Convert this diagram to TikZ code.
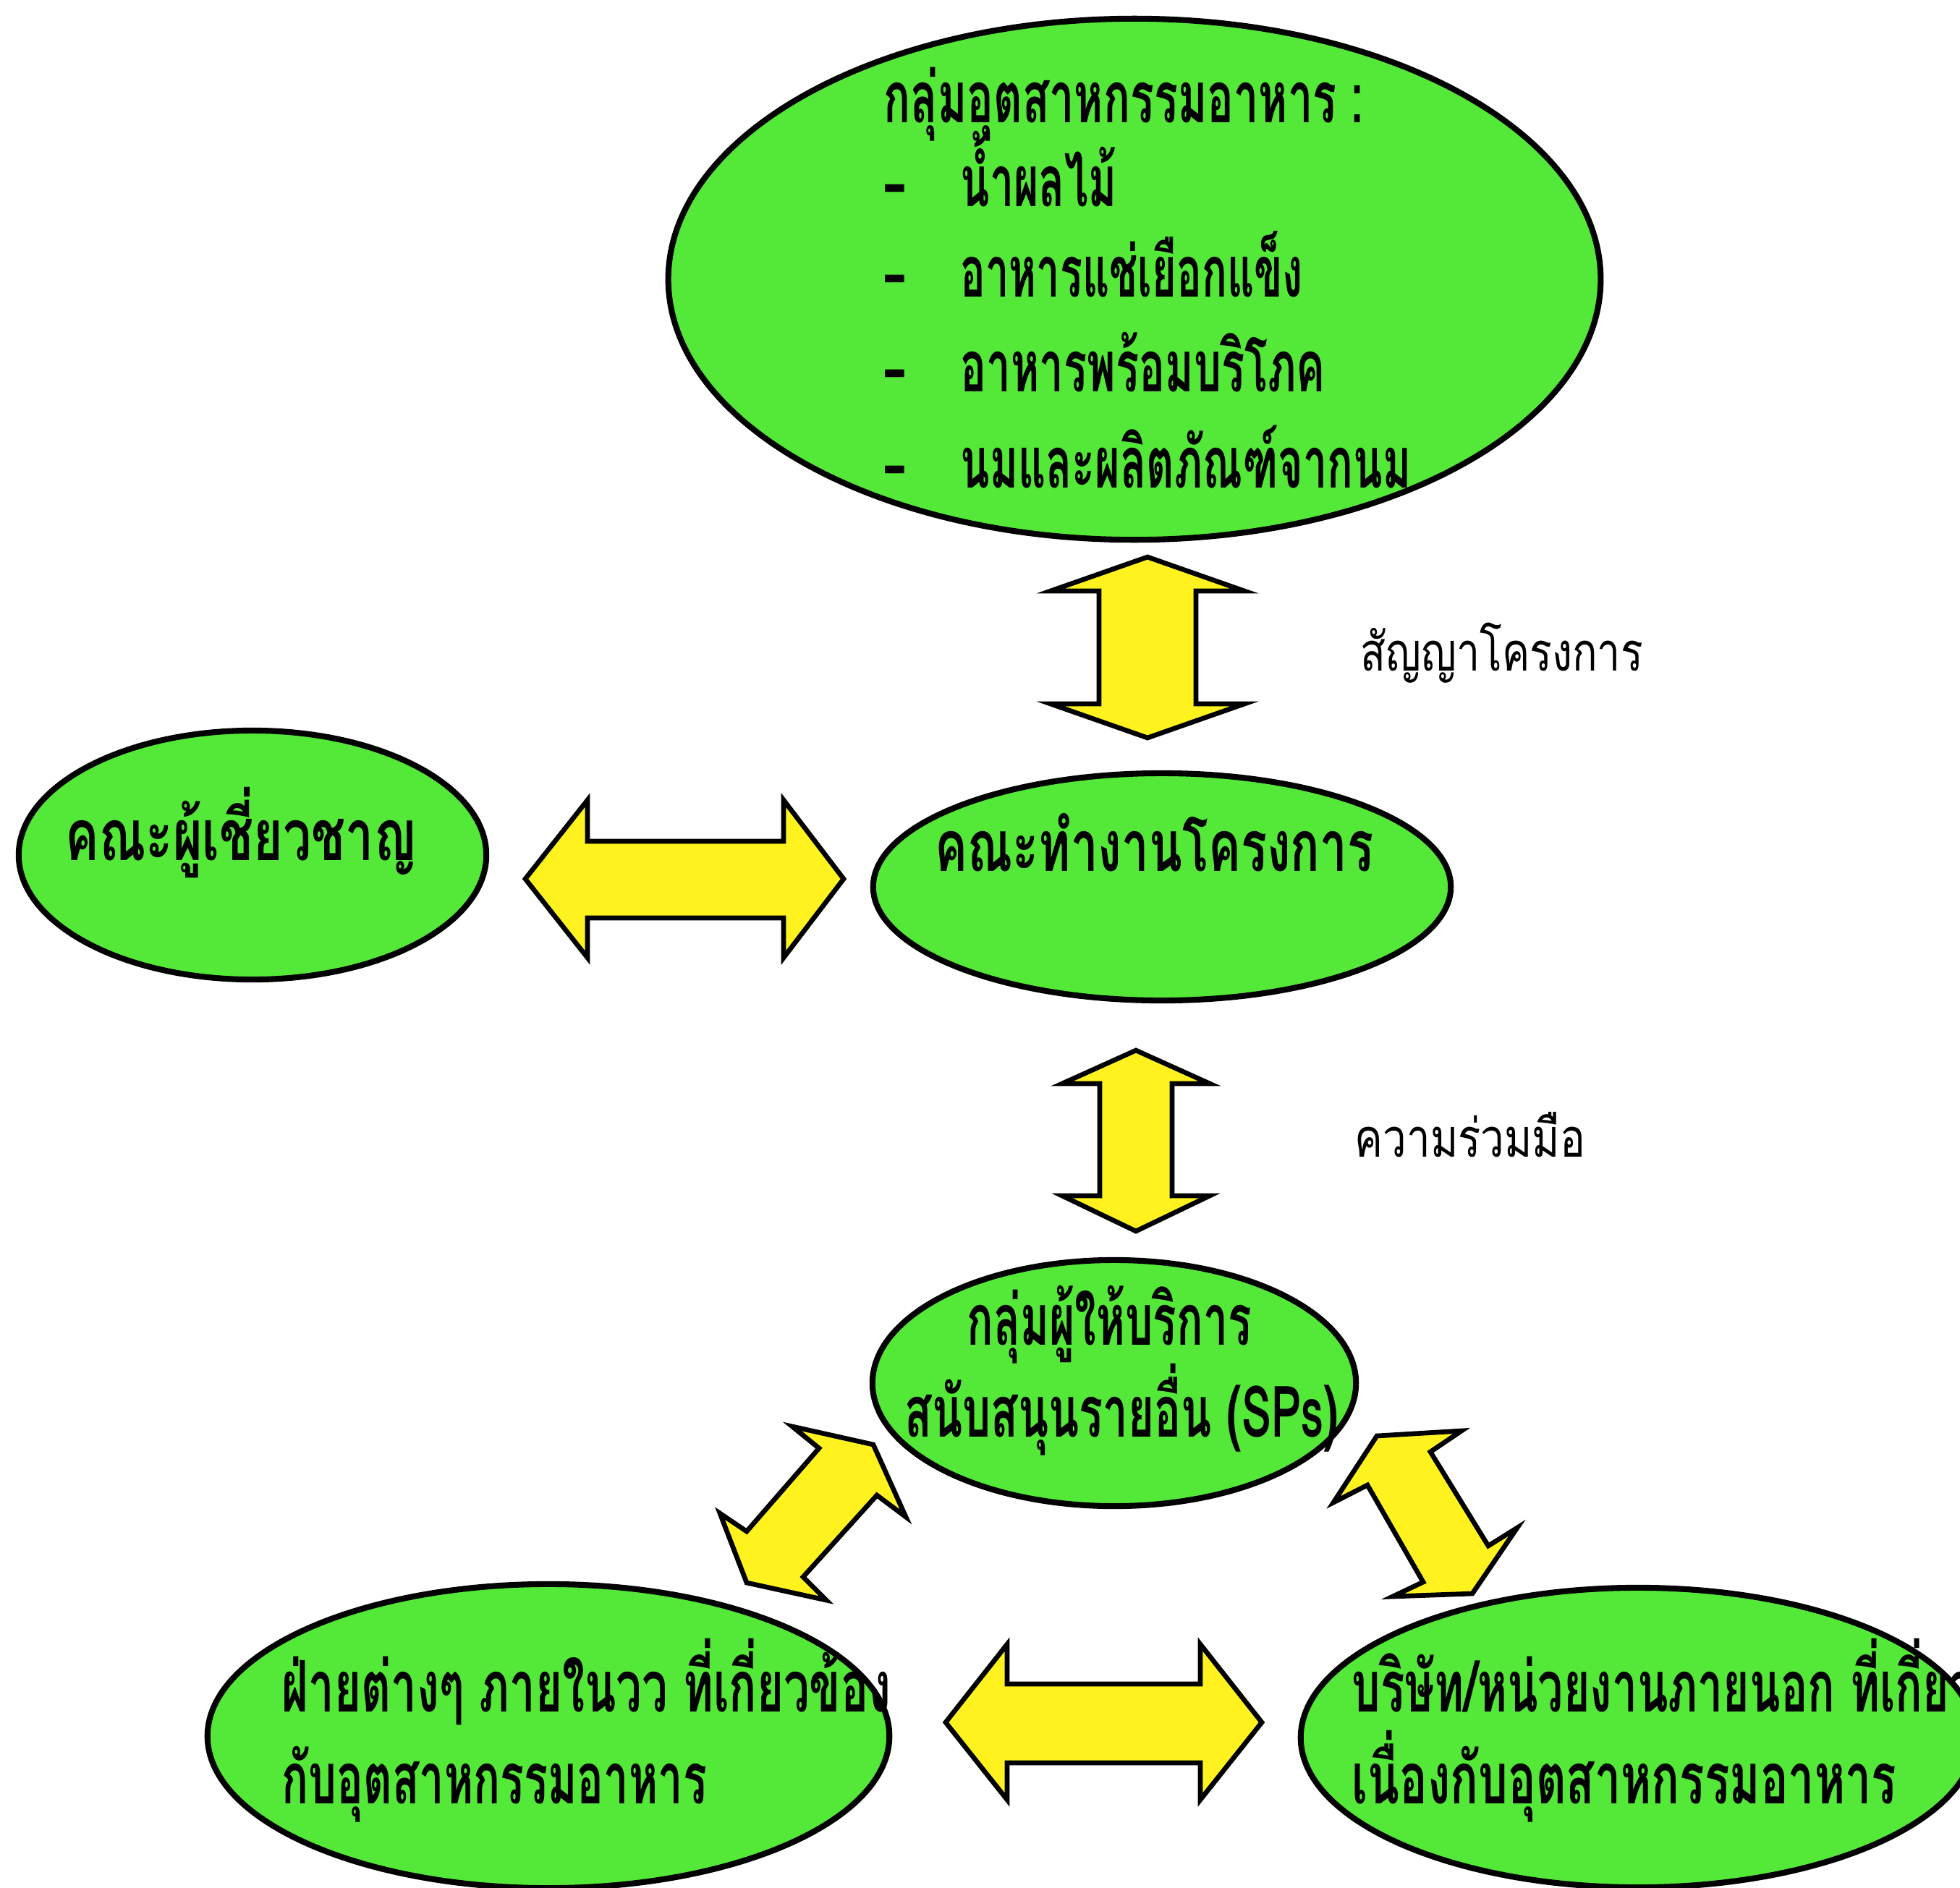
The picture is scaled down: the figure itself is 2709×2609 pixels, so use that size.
\documentclass[tikz,border=0pt]{standalone}
\usepackage{fontspec}
\usepackage{graphicx}
\usetikzlibrary{shapes.geometric}
\newfontfamily\thaifont[Script=Thai]{Loma}
\definecolor{ellgreen}{RGB}{84,232,56}
\definecolor{arryellow}{RGB}{255,242,30}
\newcommand\fitw[2]{\resizebox{#1}{\height}{#2}}
\tikzset{
  ell/.style={ellipse, draw=black, line width=2.3pt, fill=ellgreen, inner sep=0pt},
  blk/.style={draw=black, line width=1.9pt, fill=arryellow, line join=miter},
  btxt/.style={inner sep=0pt, anchor=mid west, font=\thaifont\bfseries\fontsize{28}{32}\selectfont},
  ltxt/.style={inner sep=0pt, anchor=mid west, font=\thaifont\fontsize{21}{25}\selectfont},
}
\begin{document}
\begin{tikzpicture}[x=0.01cm,y=-0.01cm]
\useasboundingbox (0,0) rectangle (2709,2609);
\clip (0,0) rectangle (2709,2609);
\fill[white] (0,0) rectangle (2709,2609);

% ellipses
\node[ell, minimum width=12.88cm, minimum height=7.2cm] (food) at (1568,386) {};
\node[ell, minimum width=6.46cm, minimum height=3.44cm] (expert) at (349,1182) {};
\node[ell, minimum width=7.98cm, minimum height=3.14cm] (work) at (1606,1226) {};
\node[ell, minimum width=6.68cm, minimum height=3.4cm] (sp) at (1540,1912) {};
\node[ell, minimum width=9.42cm, minimum height=4.2cm] (inner) at (758,2400) {};
\node[ell, minimum width=9.32cm, minimum height=4.14cm] (outer) at (2264,2402) {};

% block arrows
\draw[blk] (1586,770) -- (1720,817) -- (1653,817) -- (1653,973) -- (1720,973) -- (1586,1020)
  -- (1452,973) -- (1519,973) -- (1519,817) -- (1452,817) -- cycle;
\draw[blk] (1570,1452) -- (1672,1498) -- (1620,1498) -- (1620,1653) -- (1672,1653) -- (1570,1702)
  -- (1468,1653) -- (1520,1653) -- (1520,1498) -- (1468,1498) -- cycle;
\draw[blk] (726,1215) -- (812,1106) -- (812,1163) -- (1083,1163) -- (1083,1106) -- (1166,1215)
  -- (1083,1324) -- (1083,1269) -- (812,1269) -- (812,1324) -- cycle;
\draw[blk] (1307,2381) -- (1392,2273) -- (1392,2328) -- (1659,2328) -- (1659,2273) -- (1744,2381)
  -- (1659,2488) -- (1659,2437) -- (1392,2437) -- (1392,2488) -- cycle;
\draw[blk] (1095,1972) -- (1207,1997) -- (1252,2097) -- (1212,2067) -- (1110,2180) -- (1142,2212)
  -- (1032,2188) -- (995,2092) -- (1032,2117) -- (1132,2002) -- cycle;
\draw[blk] (2020,1978) -- (1903,1985) -- (1843,2077) -- (1890,2053) -- (1967,2187) -- (1925,2207)
  -- (2035,2203) -- (2097,2112) -- (2057,2137) -- (1977,2007) -- cycle;

% texts
\node[btxt] (ftitle) at (1221,162) {\fitw{6.63cm}{กลุ่มอุตสาหกรรมอาหาร :}};
\node[btxt] (bul1) at (1220,278) {-};
\node[btxt] (bul2) at (1220,403) {-};
\node[btxt] (bul3) at (1220,534) {-};
\node[btxt] (bul4) at (1220,667) {-};
\node[btxt] (it1) at (1327,278) {\fitw{2.16cm}{น้ำผลไม้}};
\node[btxt] (it2) at (1327,403) {\fitw{4.73cm}{อาหารแช่เยือกแข็ง}};
\node[btxt] (it3) at (1327,534) {\fitw{5.04cm}{อาหารพร้อมบริโภค}};
\node[btxt] (it4) at (1327,667) {\fitw{6.22cm}{นมและผลิตภัณฑ์จากนม}};

\node[btxt] (exptxt) at (90,1182) {\fitw{4.85cm}{คณะผู้เชี่ยวชาญ}};
\node[btxt] (worktxt) at (1292,1197) {\fitw{6.05cm}{คณะทำงานโครงการ}};
\node[ltxt] (lab1) at (1880,920) {\fitw{3.9cm}{สัญญาโครงการ}};
\node[ltxt] (lab2) at (1872,1592) {\fitw{3.18cm}{ความร่วมมือ}};

\node[btxt] (sp1) at (1336,1852) {\fitw{3.93cm}{กลุ่มผู้ให้บริการ}};
\node[btxt] (sp2) at (1250,1979) {\fitw{5.99cm}{สนับสนุนรายอื่น (SPs)}};

\node[btxt] (in1) at (389,2359) {\fitw{8.41cm}{ฝ่ายต่างๆ ภายในวว ที่เกี่ยวข้อง}};
\node[btxt] (in2) at (389,2486) {\fitw{5.87cm}{กับอุตสาหกรรมอาหาร}};
\node[btxt] (out1) at (1868,2359) {\fitw{8.6cm}{บริษัท/หน่วยงานภายนอก ที่เกี่ยว}};
\node[btxt] (out2) at (1868,2486) {\fitw{7.52cm}{เนื่องกับอุตสาหกรรมอาหาร}};
\end{tikzpicture}
\end{document}
